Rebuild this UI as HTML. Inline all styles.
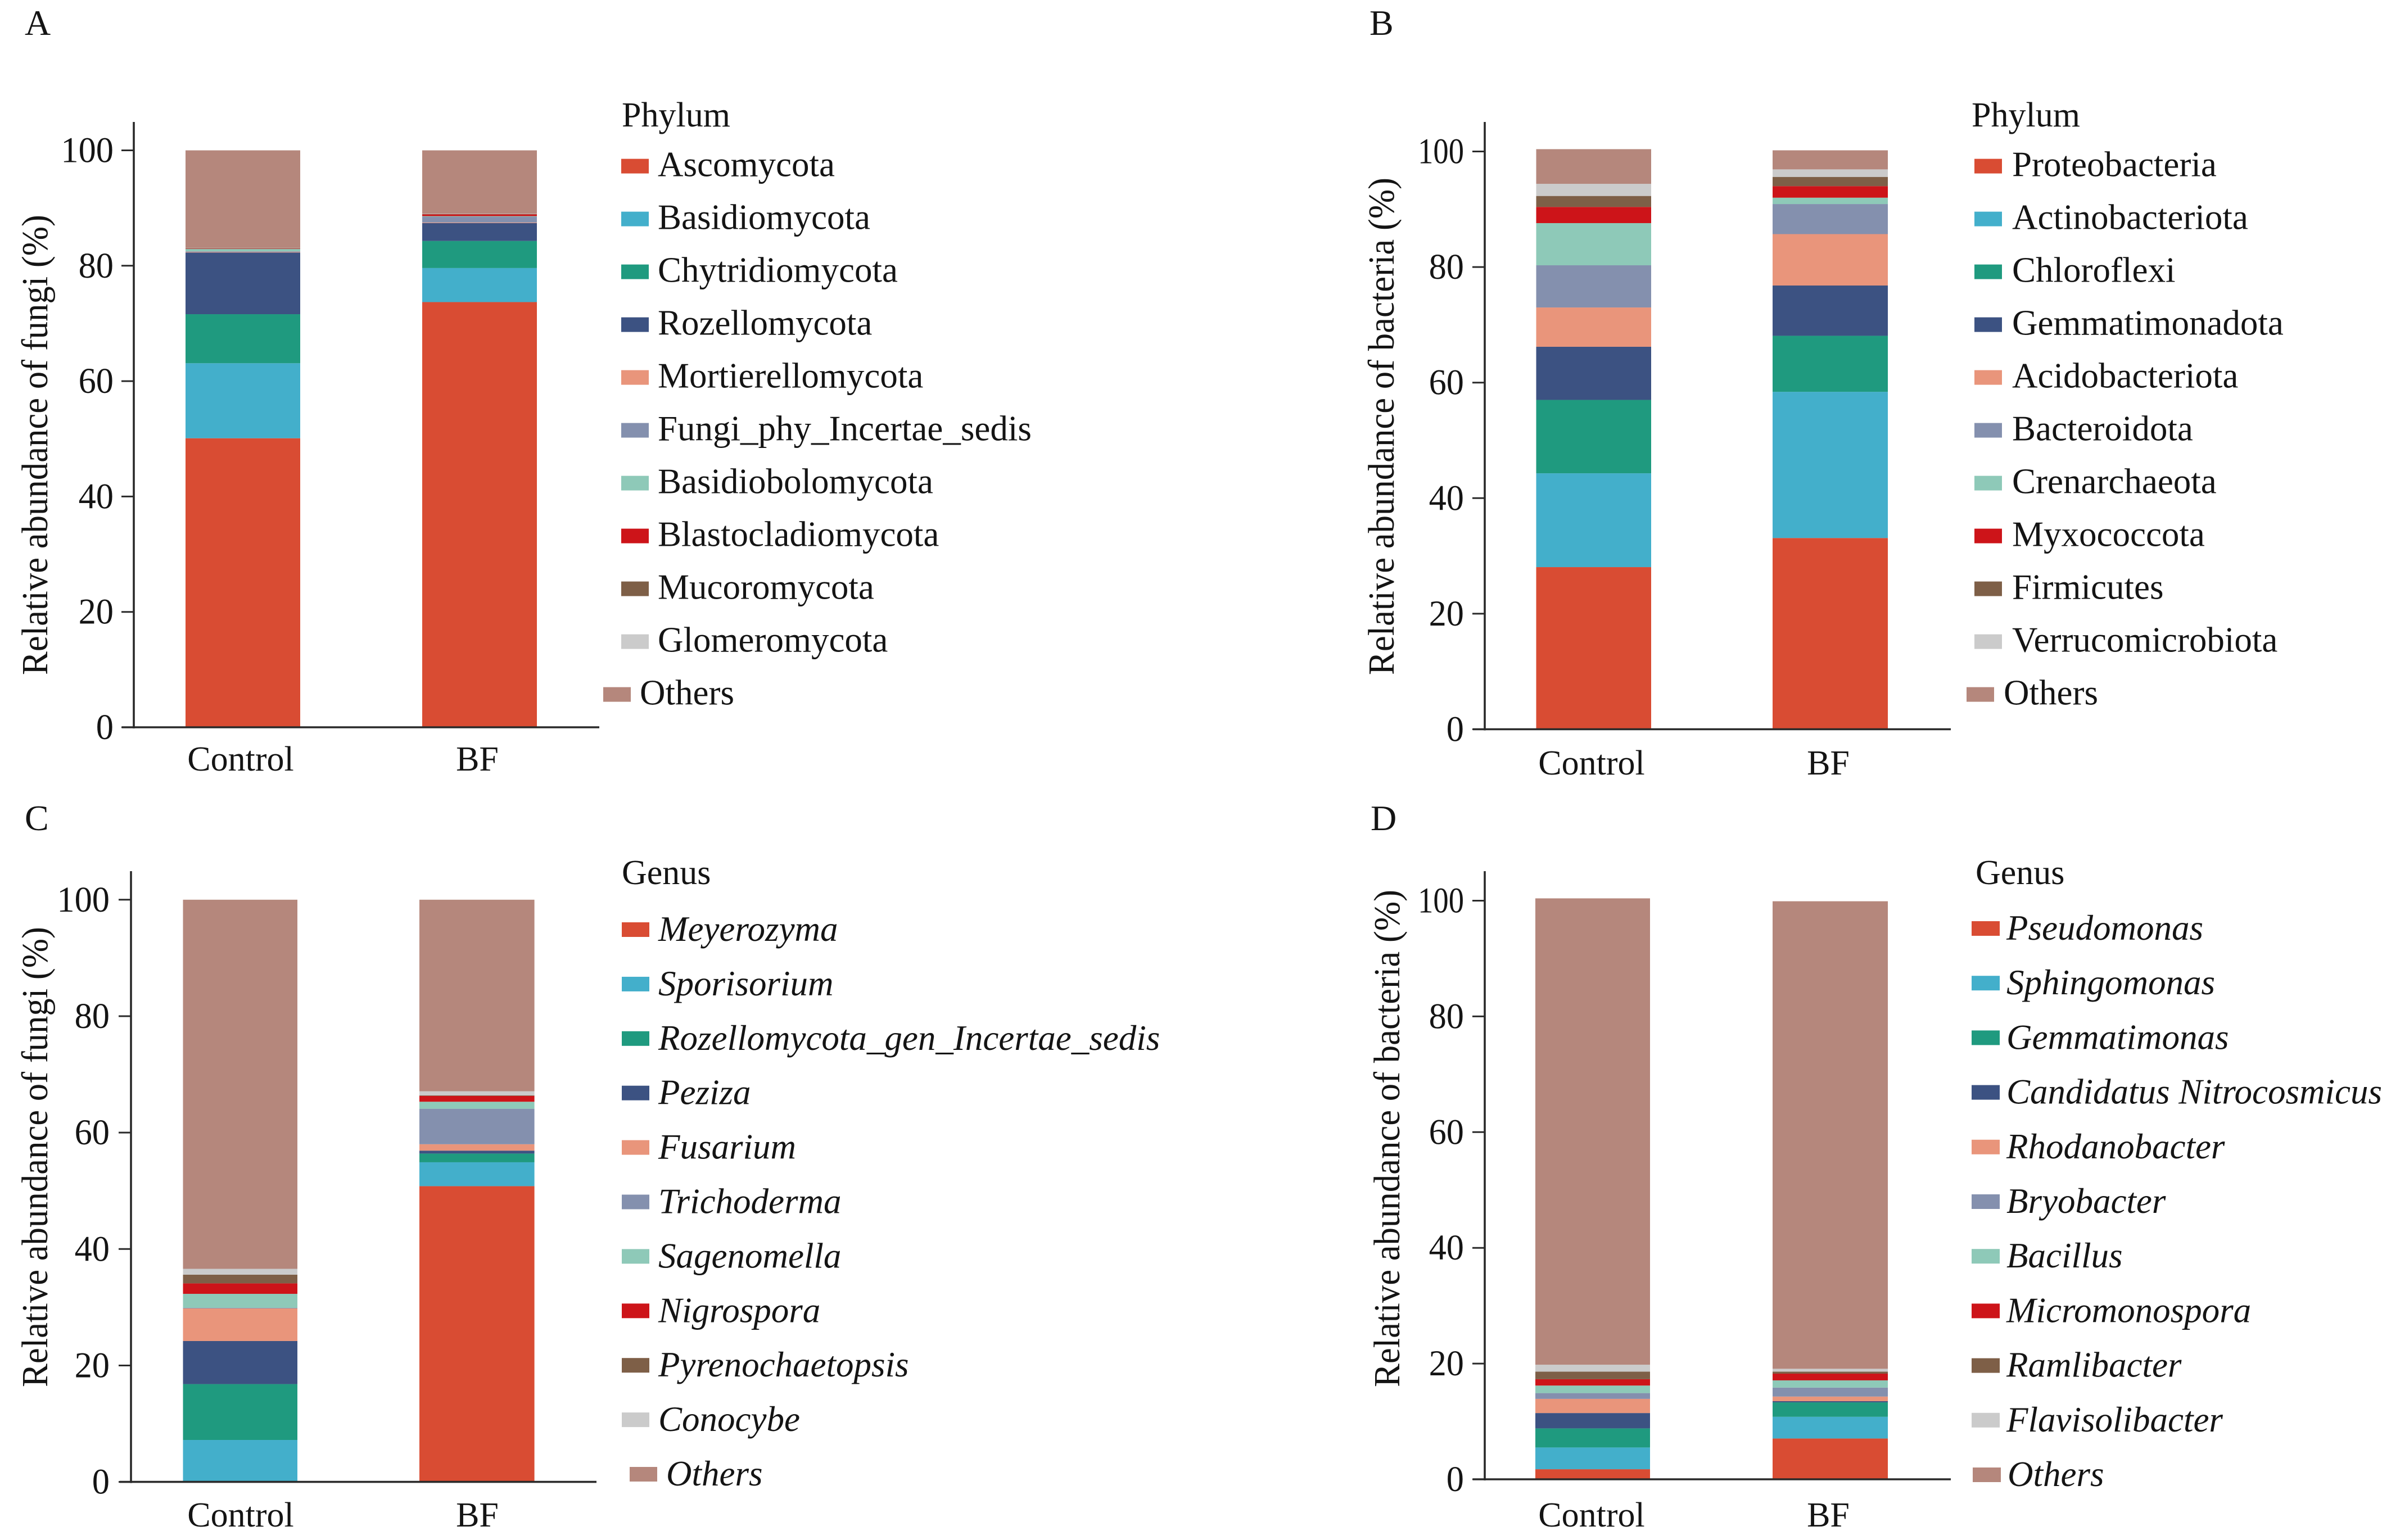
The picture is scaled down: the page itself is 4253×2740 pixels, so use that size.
<!DOCTYPE html>
<html>
<head>
<meta charset="utf-8">
<title>Relative abundance stacked bars</title>
<style>
html,body{margin:0;padding:0;background:#fff;}
svg{display:block;}
text{font-family:"Liberation Serif",serif;fill:#141414;}
</style>
</head>
<body>
<svg id="chart" xmlns="http://www.w3.org/2000/svg" width="4253" height="2740" viewBox="0 0 4253 2740"></svg>
<script>
const categories = ["Control", "BF"];
const yTicks = [0, 20, 40, 60, 80, 100];
const colors = ["#d94c33", "#43afcb", "#1f9a7f", "#3c5282", "#e9957b", "#8490ae", "#8ec9b8", "#cd1419", "#7e5f47", "#cbcbcb", "#b5877c"];

const taxaA = ["Ascomycota", "Basidiomycota", "Chytridiomycota", "Rozellomycota", "Mortierellomycota", "Fungi_phy_Incertae_sedis", "Basidiobolomycota", "Blastocladiomycota", "Mucoromycota", "Glomeromycota", "Others"];
const controlA = [50.1, 13.0, 8.5, 10.7, 0.1, 0.1, 0.4, 0.05, 0.05, 0.05, 16.95];
const bfA = [73.7, 5.9, 4.7, 3.1, 0.1, 1.0, 0.1, 0.3, 0.05, 0.05, 11.0];

const taxaB = ["Proteobacteria", "Actinobacteriota", "Chloroflexi", "Gemmatimonadota", "Acidobacteriota", "Bacteroidota", "Crenarchaeota", "Myxococcota", "Firmicutes", "Verrucomicrobiota", "Others"];
const controlB = [28.06, 16.24, 12.7, 9.2, 6.8, 7.3, 7.3, 2.8, 1.9, 2.1, 6.0];
const bfB = [33.1, 25.3, 9.7, 8.7, 8.9, 5.2, 1.1, 2.0, 1.6, 1.3, 3.3];

const taxaC = ["Meyerozyma", "Sporisorium", "Rozellomycota_gen_Incertae_sedis", "Peziza", "Fusarium", "Trichoderma", "Sagenomella", "Nigrospora", "Pyrenochaetopsis", "Conocybe", "Others"];
const controlC = [0.05, 7.15, 9.6, 7.4, 5.6, 0.1, 2.4, 1.8, 1.5, 1.0, 63.4];
const bfC = [50.8, 4.1, 1.5, 0.5, 1.1, 6.1, 1.2, 1.0, 0.1, 0.7, 32.9];

const taxaD = ["Pseudomonas", "Sphingomonas", "Gemmatimonas", "Candidatus Nitrocosmicus", "Rhodanobacter", "Bryobacter", "Bacillus", "Micromonospora", "Ramlibacter", "Flavisolibacter", "Others"];
const controlD = [1.74, 3.76, 3.3, 2.65, 2.45, 1.0, 1.3, 1.1, 1.3, 1.2, 80.6];
const bfD = [7.05, 3.75, 2.5, 0.2, 0.8, 1.55, 1.25, 1.16, 0.34, 0.5, 80.8];

const panels = [
  {id:"a", letter:"A", lx:44, ly:62, yTitle:"Relative abundance of fungi (%)", legendTitle:"Phylum", taxa:taxaA, series:[controlA,bfA], italic:false,
   axisX:238, axisTop:217, y0:1294, y100:267.5, baseL:217, baseR:1066, bars:[[330,534],[751,955]], hundredScale:0.96,
   tickX:202, labelY:1371, labelX:[428,849], titleX:84, titleY:1201,
   legX:1105, legW:49, legTx:1170, legTitleX:1106, legTitleY:225, legY0:295.6, legStep:94, legDy:18, othX:1073, othTx:1138},
  {id:"b", letter:"B", lx:2436, ly:62, yTitle:"Relative abundance of bacteria (%)", legendTitle:"Phylum", taxa:taxaB, series:[controlB,bfB], italic:false,
   axisX:2641, axisTop:217, y0:1297.5, y100:269.5, baseL:2620, baseR:3470, bars:[[2732.5,2937],[3153,3358]], hundredScale:0.84,
   tickX:2604, labelY:1378, labelX:[2831,3252], titleX:2479, titleY:1201,
   legX:3512, legW:49, legTx:3579, legTitleX:3507, legTitleY:225, legY0:295.6, legStep:94, legDy:18, othX:3498, othTx:3564},
  {id:"c", letter:"C", lx:44, ly:1477, yTitle:"Relative abundance of fungi (%)", legendTitle:"Genus", taxa:taxaC, series:[controlC,bfC], italic:true,
   axisX:233, axisTop:1550, y0:2636.6, y100:1600.8, baseL:213, baseR:1061, bars:[[325.5,529],[746,950.6]], hundredScale:0.96,
   tickX:195, labelY:2716, labelX:[428,849], titleX:84, titleY:2468,
   legX:1106, legW:49, legTx:1171, legTitleX:1106, legTitleY:1573, legY0:1654, legStep:96.9, legDy:20, othX:1120, othTx:1185},
  {id:"d", letter:"D", lx:2438, ly:1477, yTitle:"Relative abundance of bacteria (%)", legendTitle:"Genus", taxa:taxaD, series:[controlD,bfD], italic:true,
   axisX:2641, axisTop:1550, y0:2632, y100:1602.5, baseL:2620, baseR:3470, bars:[[2731,2935],[3153,3358]], hundredScale:0.84,
   tickX:2604, labelY:2716, labelX:[2831,3252], titleX:2489, titleY:2468,
   legX:3507, legW:50, legTx:3569, legTitleX:3514, legTitleY:1573, legY0:1652, legStep:97.2, legDy:20, othX:3509, othTx:3571}
];

const svg = document.getElementById("chart");
const NS = "http://www.w3.org/2000/svg";
const INK = "#2a2a2a";

function make(parent, tag, attrs, content) {
  const el = document.createElementNS(NS, tag);
  for (const k in attrs) el.setAttribute(k, attrs[k]);
  if (content !== undefined) el.textContent = content;
  parent.appendChild(el);
  return el;
}

function drawPanel(p) {
  const yScale = v => p.y0 + (p.y100 - p.y0) / 100 * v;

  const g = make(svg, "g", {});
  
  

  const letter = make(g, "text", {x:p.lx, y:p.ly, "font-size":64}, p.letter);
  
  

  categories.forEach((cat, c) => {
    const [x0, x1] = p.bars[c];
    const values = p.series[c];
    let cum = 0;
    values.forEach((v, s) => {
      const top = yScale(cum + v);
      const bottom = yScale(cum);
      const seg = make(g, "rect", {x:x0, y:top, width:x1 - x0, height:Math.max(0, bottom - top), fill:colors[s]});
      
      
      cum += v;
    });
    const lab = make(g, "text", {x:p.labelX[c], y:p.labelY, "font-size":62, "text-anchor":"middle"}, cat);
    
    
  });

  const yAxis = make(g, "line", {x1:p.axisX, x2:p.axisX, y1:p.axisTop, y2:p.y0 + 2, stroke:INK, "stroke-width":3.6});
  
  
  const xAxis = make(g, "line", {x1:p.baseL, x2:p.baseR, y1:p.y0, y2:p.y0, stroke:INK, "stroke-width":3.6});
  
  

  yTicks.forEach(t => {
    const y = yScale(t);
    const tick = make(g, "line", {x1:p.axisX - 22, x2:p.axisX, y1:y, y2:y, stroke:INK, "stroke-width":3});
    
    
    const sx = t === yTicks[yTicks.length - 1] ? p.hundredScale : 0.96;
    const tl = make(g, "text", {x:0, y:0, "font-size":65, "text-anchor":"end", transform:"translate(" + p.tickX + "," + (y + 21) + ") scale(" + sx + ",1)"}, String(t));
    
    
  });

  const yt = make(g, "text", {x:0, y:0, "font-size":66, transform:"translate(" + p.titleX + "," + p.titleY + ") rotate(-90) scale(0.951,1)"}, p.yTitle);
  
  

  const lt = make(g, "text", {x:p.legTitleX, y:p.legTitleY, "font-size":62}, p.legendTitle);
  
  

  p.taxa.forEach((name, i) => {
    const cy = p.legY0 + i * p.legStep;
    const last = i === p.taxa.length - 1;
    const sw = make(g, "rect", {x:last ? p.othX : p.legX, y:cy - 13, width:p.legW, height:26, fill:colors[i]});
    
    
    const attrs = {x:last ? p.othTx : p.legTx, y:cy + p.legDy, "font-size":63};
    if (p.italic) attrs["font-style"] = "italic";
    const tx = make(g, "text", attrs, name);
    
    
  });
}

panels.forEach(drawPanel);
</script>
</body>
</html>
